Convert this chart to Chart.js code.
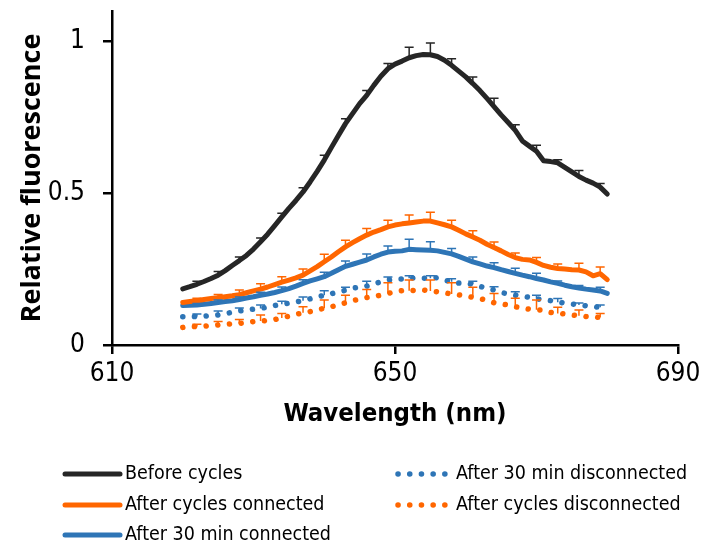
<!DOCTYPE html>
<html>
<head>
<meta charset="utf-8">
<script src="https://cdn.jsdelivr.net/npm/chart.js@4/dist/chart.umd.min.js"></script>
<style>
  html, body { margin: 0; padding: 0; background: #fff; }
  #wrap { width: 702px; height: 542px; }
</style>
</head>
<body>
<div id="wrap"><canvas id="c" width="702" height="542"></canvas></div>
<script>
// Emission spectra, 620–680 nm, 1 nm steps
const wavelengths = [620,621,622,623,624,625,626,627,628,629,630,631,632,633,634,635,636,637,638,639,640,641,642,643,644,645,646,647,648,649,650,651,652,653,654,655,656,657,658,659,660,661,662,663,664,665,666,667,668,669,670,671,672,673,674,675,676,677,678,679,680];

const beforeCycles = [0.185,0.192,0.200,0.209,0.219,0.230,0.245,0.262,0.278,0.295,
  0.316,0.340,0.365,0.393,0.422,0.450,0.476,0.504,0.537,0.572,
  0.609,0.650,0.690,0.729,0.762,0.795,0.822,0.855,0.885,0.910,
  0.925,0.935,0.946,0.953,0.957,0.956,0.950,0.938,0.921,0.902,
  0.883,0.861,0.838,0.812,0.785,0.758,0.733,0.707,0.672,0.655,
  0.638,0.607,0.604,0.600,0.585,0.570,0.555,0.543,0.533,0.520,0.497];

const cyclesConnected = [0.140,0.143,0.146,0.150,0.153,0.156,0.159,0.162,0.166,0.172,
  0.178,0.184,0.191,0.199,0.207,0.214,0.221,0.230,0.244,0.258,
  0.274,0.290,0.307,0.323,0.337,0.350,0.362,0.372,0.380,0.389,
  0.395,0.399,0.402,0.405,0.408,0.408,0.402,0.396,0.389,0.378,
  0.366,0.356,0.345,0.332,0.321,0.310,0.298,0.288,0.282,0.280,
  0.272,0.262,0.256,0.252,0.250,0.248,0.247,0.241,0.228,0.235,0.215];

const min30Connected = [0.130,0.131,0.132,0.134,0.137,0.140,0.143,0.146,0.150,0.155,
  0.159,0.164,0.168,0.173,0.179,0.186,0.194,0.203,0.211,0.218,
  0.225,0.236,0.248,0.259,0.266,0.273,0.280,0.290,0.299,0.306,
  0.309,0.310,0.315,0.314,0.313,0.312,0.310,0.305,0.300,0.292,
  0.283,0.274,0.267,0.260,0.255,0.248,0.242,0.236,0.230,0.225,
  0.219,0.214,0.208,0.203,0.197,0.192,0.188,0.184,0.181,0.178,0.170];

const min30Disconnected = [0.093,0.093,0.094,0.095,0.097,0.099,0.103,0.108,0.112,0.115,
  0.118,0.120,0.125,0.130,0.134,0.138,0.142,0.146,0.152,0.158,
  0.164,0.169,0.175,0.180,0.187,0.191,0.194,0.201,0.208,0.214,
  0.217,0.217,0.220,0.222,0.220,0.220,0.222,0.214,0.208,0.204,
  0.203,0.200,0.193,0.187,0.181,0.173,0.168,0.164,0.161,0.157,
  0.152,0.149,0.146,0.141,0.138,0.135,0.132,0.129,0.126,0.124,0.122];

const cyclesDisconnected = [0.058,0.060,0.061,0.062,0.064,0.066,0.068,0.070,0.071,0.074,
  0.077,0.079,0.081,0.084,0.089,0.095,0.101,0.106,0.110,0.116,
  0.121,0.126,0.132,0.139,0.146,0.151,0.156,0.160,0.164,0.170,
  0.175,0.179,0.179,0.180,0.181,0.178,0.175,0.172,0.168,0.165,
  0.161,0.157,0.153,0.147,0.139,0.135,0.132,0.126,0.121,0.118,
  0.116,0.115,0.107,0.104,0.102,0.099,0.096,0.094,0.093,0.091,0.089];

// Standard deviations (upper bars), every 3 nm
const errWavelengths = [622,625,628,631,634,637,640,643,646,649,652,655,658,661,664,667,670,673,676,679];
const errBefore = [0.010,0.012,0.012,0.012,0.012,0.014,0.016,0.016,0.016,0.017,0.035,0.039,0.022,0.022,0.028,0.018,0.020,0.010,0.020,0.012];
const errCyclesConn = [0.008,0.010,0.015,0.018,0.018,0.020,0.025,0.022,0.022,0.022,0.026,0.029,0.022,0.020,0.018,0.015,0.016,0.015,0.022,0.022];
const err30Conn = [0.005,0.008,0.008,0.010,0.012,0.012,0.015,0.018,0.020,0.020,0.033,0.028,0.018,0.016,0.016,0.017,0.017,0.008,0.008,0.012];
const err30Disc = [0.008,0.013,0.010,0.012,0.010,0.012,0.015,0.010,0.016,0.010,0.008,0.008,0.010,0.010,0.011,0.011,0.012,0.012,0.006,0.008];
const errCyclesDisc = [0.007,0.011,0.013,0.020,0.015,0.020,0.027,0.025,0.027,0.035,0.035,0.036,0.037,0.033,0.031,0.028,0.032,0.020,0.019,0.013];

const xTicks = [610, 650, 690];
const yTicks = [0, 0.5, 1];

const BLACK = '#262626', ORANGE = '#FF6600', BLUE = '#2E75B6';
const DOTS = [0.1, 11.6];

function series(label, values, errs, color, dotted) {
  return {
    label,
    data: wavelengths.map((w, i) => ({ x: w, y: values[i] })),
    errors: errs,
    borderColor: color,
    backgroundColor: color,
    borderWidth: dotted ? 5.5 : 5,
    borderDash: dotted ? DOTS : [],
    borderCapStyle: 'round',
    borderJoinStyle: 'round',
    pointRadius: 0,
    tension: 0,
    dotted
  };
}

const datasets = [
  series('Before cycles', beforeCycles, errBefore, BLACK, false),
  series('After cycles connected', cyclesConnected, errCyclesConn, ORANGE, false),
  series('After 30 min connected', min30Connected, err30Conn, BLUE, false),
  series('After 30 min disconnected', min30Disconnected, err30Disc, BLUE, true),
  series('After cycles disconnected', cyclesDisconnected, errCyclesDisc, ORANGE, true)
];

// Upper error bars with caps
const errorBars = {
  id: 'errorBars',
  afterDatasetsDraw(chart) {
    const { ctx, scales: { x, y } } = chart;
    ctx.save();
    ctx.lineWidth = 1.5;
    ctx.setLineDash([]);
    chart.data.datasets.forEach(ds => {
      ctx.strokeStyle = ds.borderColor;
      errWavelengths.forEach((w, k) => {
        const i = wavelengths.indexOf(w);
        const v = ds.data[i].y;
        const px = x.getPixelForValue(w);
        const py = y.getPixelForValue(v);
        const pt = y.getPixelForValue(v + ds.errors[k]);
        ctx.beginPath();
        ctx.moveTo(px, py);
        ctx.lineTo(px, pt);
        ctx.moveTo(px - 4.5, pt);
        ctx.lineTo(px + 4.5, pt);
        ctx.stroke();
      });
    });
    ctx.restore();
  }
};

// Two-column legend under the plot
const legendSlots = [
  { x: 65, x2: 120, tx: 125, y: 474 },
  { x: 65, x2: 120, tx: 125, y: 505 },
  { x: 65, x2: 120, tx: 125, y: 535 },
  { x: 398, x2: 446, tx: 456, y: 474 },
  { x: 398, x2: 446, tx: 456, y: 505 }
];
const legendPlugin = {
  id: 'twoColLegend',
  afterDraw(chart) {
    const ctx = chart.ctx;
    ctx.save();
    chart.data.datasets.forEach((ds, i) => {
      const s = legendSlots[i];
      ctx.beginPath();
      ctx.strokeStyle = ds.borderColor;
      ctx.lineCap = 'round';
      ctx.lineWidth = ds.borderWidth;
      ctx.setLineDash(ds.dotted ? DOTS : []);
      ctx.moveTo(s.x, s.y);
      ctx.lineTo(s.x2, s.y);
      ctx.stroke();
      ctx.setLineDash([]);
      ctx.fillStyle = '#000';
      ctx.font = '19.5px "DejaVu Sans Condensed", "DejaVu Sans", sans-serif';
      ctx.textBaseline = 'middle';
      ctx.textAlign = 'left';
      ctx.fillText(ds.label, s.tx, s.y);
    });
    ctx.restore();
  }
};

const tickFont = { family: '"DejaVu Sans Condensed", "DejaVu Sans", sans-serif', size: 26 };

new Chart(document.getElementById('c'), {
  type: 'line',
  data: { datasets },
  plugins: [errorBars, legendPlugin],
  options: {
    responsive: false,
    animation: false,
    layout: { padding: { left: 0, right: 24, top: 11, bottom: 100 } },
    plugins: { legend: { display: false }, tooltip: { enabled: false } },
    scales: {
      x: {
        type: 'linear',
        min: 610, max: 690,
        afterBuildTicks: s => { s.ticks = xTicks.map(v => ({ value: v })); },
        afterFit: s => { s.height = 97; s.paddingLeft = 0; s.paddingRight = 0; },
        ticks: { color: '#000', font: tickFont, padding: 5, callback: v => String(v), maxRotation: 0 },
        grid: { drawOnChartArea: false, drawTicks: true, tickLength: 9, color: '#000', lineWidth: 2.5 },
        border: { display: true, color: '#000', width: 2.5 },
        title: {
          display: true, text: 'Wavelength (nm)', color: '#000',
          font: { family: '"DejaVu Sans Condensed", "DejaVu Sans", sans-serif', size: 25.5, weight: 'bold' },
          padding: { top: 0, bottom: 12 }
        }
      },
      y: {
        type: 'linear',
        min: 0, max: 1.1,
        afterBuildTicks: s => { s.ticks = yTicks.map(v => ({ value: v })); },
        afterFit: s => { s.width = 112; s.paddingTop = 0; s.paddingBottom = 0; },
        ticks: { color: '#000', font: tickFont, padding: 18, callback: v => String(v) },
        grid: { drawOnChartArea: false, drawTicks: true, tickLength: 9, color: '#000', lineWidth: 2.5 },
        border: { display: true, color: '#000', width: 2.5 },
        title: {
          display: true, text: 'Relative fluorescence', color: '#000',
          font: { family: '"Open Sans", sans-serif', size: 27, weight: 'bold' },
          padding: { top: 16, bottom: 0 }
        }
      }
    }
  }
});
</script>
</body>
</html>
